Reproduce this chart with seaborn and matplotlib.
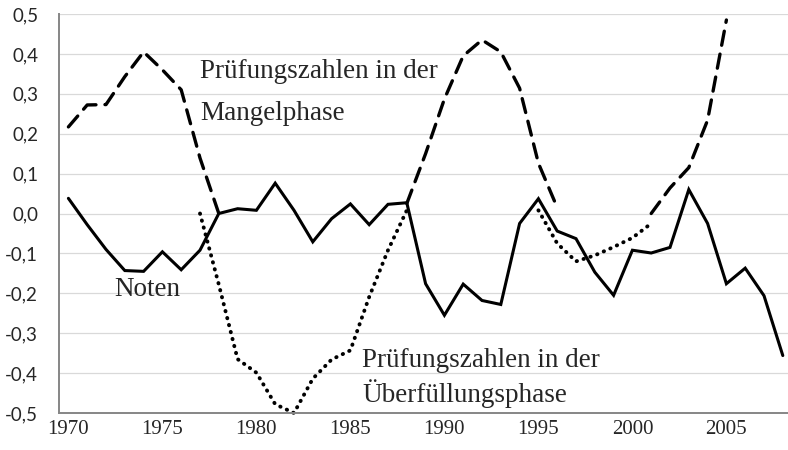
import numpy as np
import pandas as pd
import matplotlib
matplotlib.use("Agg")
import matplotlib.pyplot as plt
from matplotlib.ticker import FuncFormatter, FixedLocator
import seaborn as sns

nan = np.nan
years = list(range(1970, 2009))

noten = [0.038, -0.028, -0.090, -0.143, -0.145, -0.096, -0.141, -0.092, 0.000, 0.012,
         0.008, 0.076, 0.008, -0.071, -0.013, 0.024, -0.028, 0.023, 0.027, -0.176,
         -0.255, -0.177, -0.218, -0.228, -0.025, 0.037, -0.044, -0.063, -0.147, -0.205,
         -0.092, -0.099, -0.085, 0.060, -0.025, -0.176, -0.137, -0.206, -0.356]

mangel = ([0.217, 0.272, 0.273, 0.343, 0.405, 0.360, 0.310, 0.139, 0.000]
          + [nan] * 9
          + [0.025, 0.150, 0.287, 0.395, 0.435, 0.405, 0.314, 0.126, 0.015]
          + [nan] * 4
          + [0.000, 0.064, 0.115, 0.234, 0.485]
          + [nan] * 3)

ueberf = ([nan] * 7
          + [0.000, -0.178, -0.365, -0.399, -0.478, -0.500, -0.414, -0.366, -0.343, -0.209, -0.092, 0.008]
          + [nan] * 6
          + [0.008, -0.075, -0.120, -0.105, -0.084, -0.061, -0.025]
          + [nan] * 7)

ytick_vals = [-0.5, -0.4, -0.3, -0.2, -0.1, 0.0, 0.1, 0.2, 0.3, 0.4, 0.5]
xtick_vals = [1970, 1975, 1980, 1985, 1990, 1995, 2000, 2005]

label_mangel = ["Prüfungszahlen in der", "Mangelphase"]
label_noten = "Noten"
label_ueberf = ["Prüfungszahlen in der", "Überfüllungsphase"]

sns.set_theme(style="white")
plt.rcParams["font.family"] = ["Liberation Serif", "DejaVu Serif"]

fig = plt.figure(figsize=(7.88, 4.5), dpi=100)
ax = fig.add_axes([59 / 788, 37 / 450, 1 - 59 / 788, (413 - 14) / 450])


def segments(x, y):
    s = pd.Series(y, index=x, dtype=float)
    grp = s.isna().cumsum()
    valid = s.notna()
    for _, part in s[valid].groupby(grp[valid]):
        yield list(part.index), list(part.values)


for xs, ys in segments(years, ueberf):
    sns.lineplot(x=xs, y=ys, ax=ax, color="black", linewidth=2.8,
                 linestyle=(0, (0.1, 1.75)), dash_capstyle="round",
                 solid_capstyle="round", clip_on=False)
for xs, ys in segments(years, mangel):
    sns.lineplot(x=xs, y=ys, ax=ax, color="black", linewidth=2.4,
                 linestyle=(0, (4.3, 2.7)), dash_capstyle="round", clip_on=False)
sns.lineplot(x=years, y=noten, ax=ax, color="black", linewidth=2.2,
             solid_joinstyle="miter")

ax.set_xlim(1969.5, 1970 + (788 - 68.4) / 18.8)
ax.set_ylim(-0.5, 0.5)
ax.xaxis.set_major_locator(FixedLocator(xtick_vals))
ax.yaxis.set_major_locator(FixedLocator(ytick_vals))
ax.yaxis.set_major_formatter(FuncFormatter(
    lambda v, p: f"{round(v, 1) + 0.0:.1f}".replace(".", ",")))
ax.set_xticklabels([str(v) for v in xtick_vals])

ax.grid(axis="y", color="#d9d9d9", linewidth=0.9)
ax.grid(axis="x", visible=False)
ax.set_axisbelow(True)
for side in ["top", "right"]:
    ax.spines[side].set_visible(False)
for side in ["left", "bottom"]:
    ax.spines[side].set_color("#868686")
    ax.spines[side].set_linewidth(1.4)

ax.tick_params(axis="y", length=0, pad=15, labelsize=13.5)
ax.tick_params(axis="x", length=0, pad=5, labelsize=15)
for lbl in ax.get_yticklabels():
    lbl.set_family(["Lato", "DejaVu Sans"])
for lbl in ax.get_xticklabels():
    lbl.set_family(["Liberation Serif", "DejaVu Serif"])
ax.set_xlabel("")
ax.set_ylabel("")

fs = 19.5
ax.text(1977.0, 0.340, label_mangel[0], fontsize=fs, va="baseline", ha="left")
ax.text(1977.0, 0.235, label_mangel[1], fontsize=fs, va="baseline", ha="left")
ax.text(1972.43, -0.207, label_noten, fontsize=fs, va="baseline", ha="left")
ax.text(1985.62, -0.384, label_ueberf[0], fontsize=fs, va="baseline", ha="left")
ax.text(1985.62, -0.473, label_ueberf[1], fontsize=fs, va="baseline", ha="left")

fig.savefig("out.png", dpi=100)
